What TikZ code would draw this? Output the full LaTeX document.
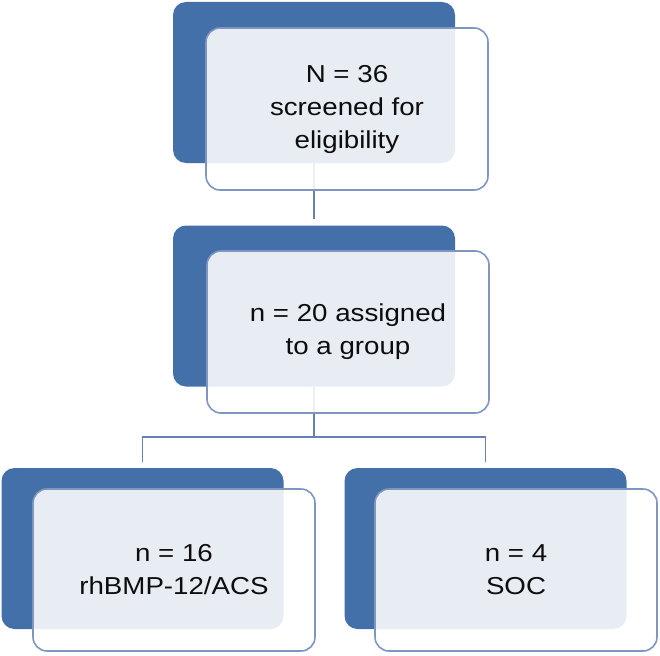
\documentclass[tikz,border=0pt]{standalone}
\usepackage{fontspec}
\setmainfont{Liberation Sans}[FakeStretch=1.13]
\definecolor{darkblue}{HTML}{4470AA}
\definecolor{lightedge}{HTML}{7F97C0}
\definecolor{connblue}{HTML}{6582B3}
\definecolor{txt}{HTML}{0D0D0D}
\begin{document}
\begin{tikzpicture}[x=1pt,y=-1pt,
  darkbox/.style={fill=darkblue, draw=none, rounded corners=13pt,
    minimum width=282pt, minimum height=161pt, inner sep=0pt},
  lightbox/.style={fill=white, fill opacity=0.88, text opacity=1,
    draw=lightedge, line width=1.6pt, rounded corners=14pt,
    minimum width=282pt, minimum height=162pt, inner sep=0pt,
    align=center, text=txt,
    font=\fontsize{24.5}{33}\selectfont},
  conn/.style={draw=connblue, line width=1.8pt}]
\useasboundingbox (0,0) rectangle (660,655);
% dark background boxes
\node[darkbox] (d1) at (314,82.5) {};
\node[darkbox] (d2) at (314,306) {};
\node[darkbox] (d3) at (142.5,548.5) {};
\node[darkbox] (d4) at (485.5,548.5) {};
% connector end points
\coordinate (c1) at (314,219);
\coordinate (j) at (314,437);
\coordinate (t3) at (142.5,462);
\coordinate (t4) at (485.5,462);
% connectors
\draw[conn] (d1.south) -- (c1);
\draw[conn] (d2.south) -- (j);
\draw[conn] (j) -| (t3);
\draw[conn] (j) -| (t4);
% light foreground boxes
\node[lightbox] (l1) at (347,109) {N = 36\\screened for\\eligibility};
\node[lightbox] (l2) at (348,332) {n = 20 assigned\\to a group};
\node[lightbox] (l3) at (174,570) {n = 16\\rhBMP-12/ACS};
\node[lightbox] (l4) at (516,570) {n = 4\\SOC};
\end{tikzpicture}
\end{document}
